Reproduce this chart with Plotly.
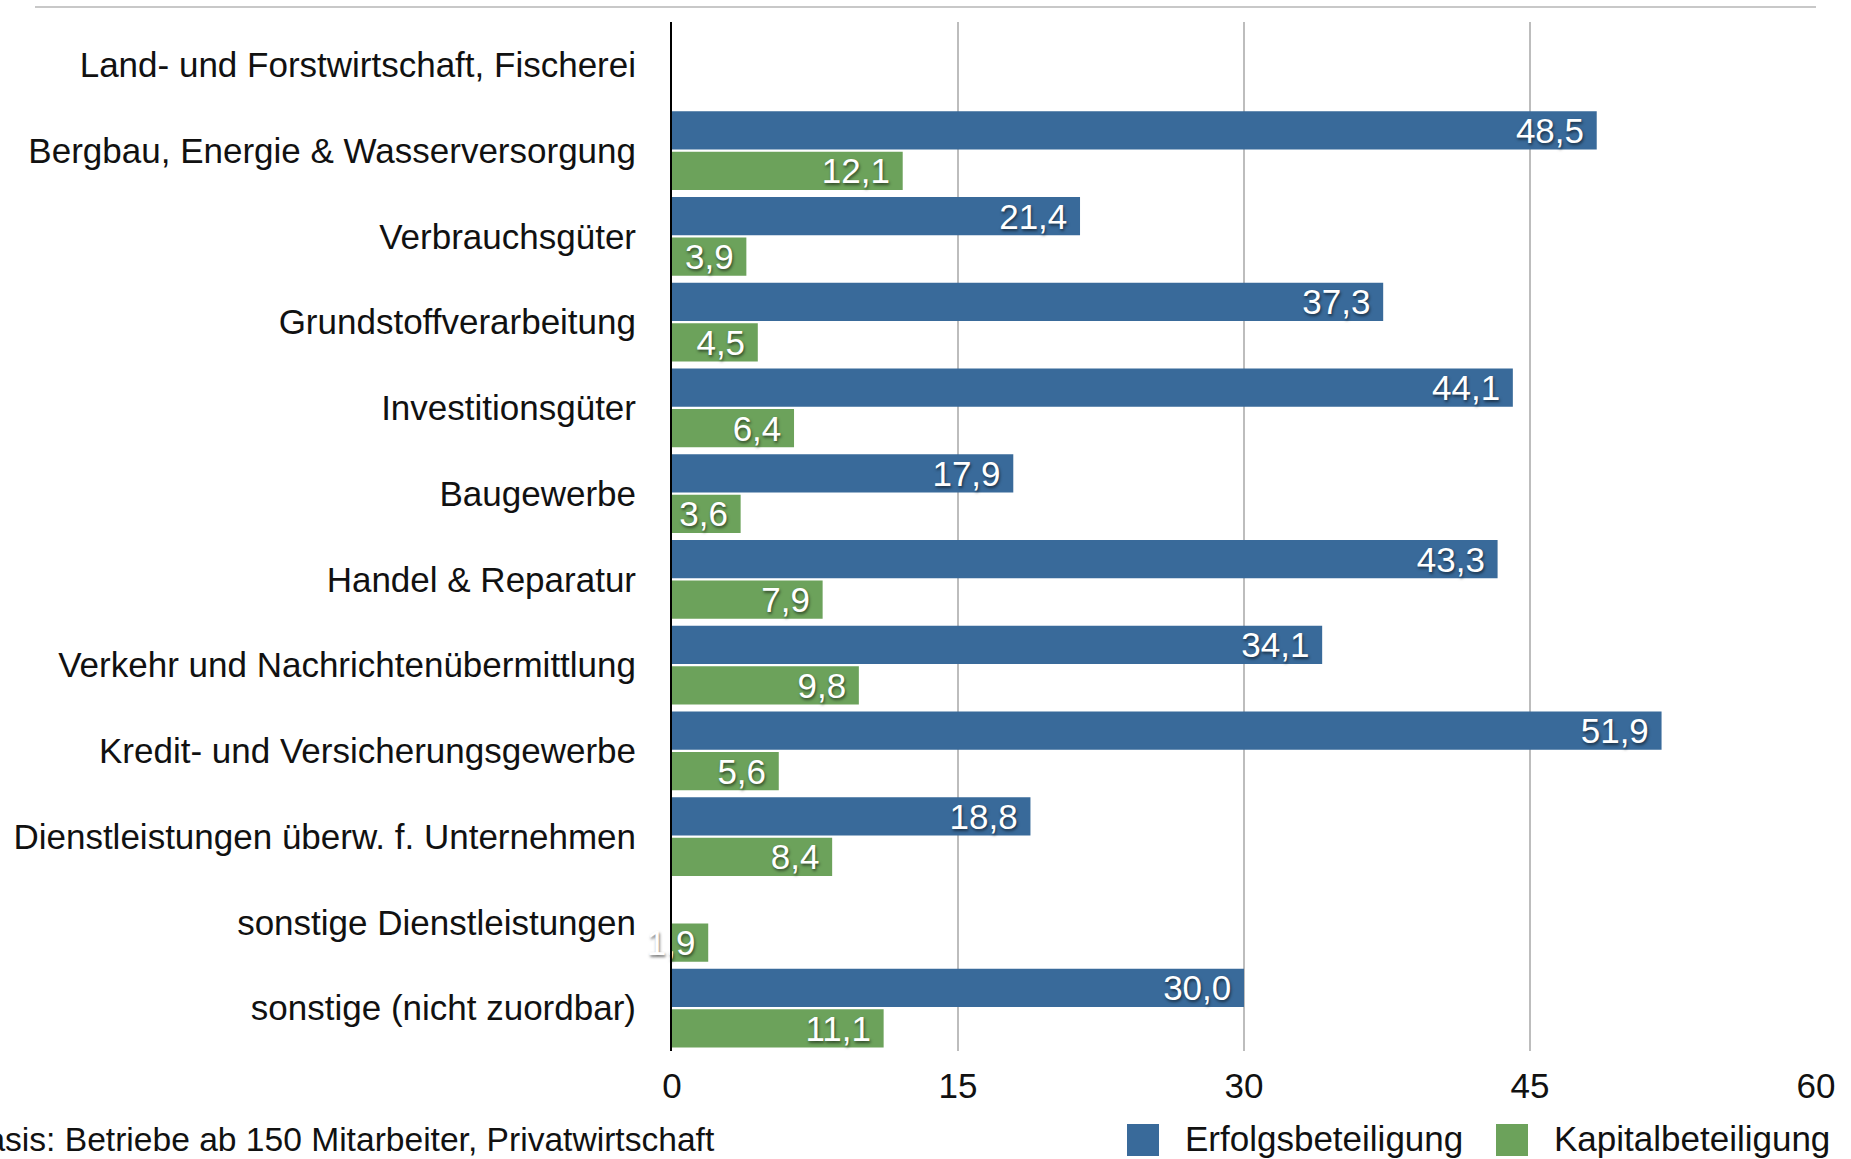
import plotly.graph_objects as go

categories = [
    "Land- und Forstwirtschaft, Fischerei",
    "Bergbau, Energie & Wasserversorgung",
    "Verbrauchsgüter",
    "Grundstoffverarbeitung",
    "Investitionsgüter",
    "Baugewerbe",
    "Handel & Reparatur",
    "Verkehr und Nachrichtenübermittlung",
    "Kredit- und Versicherungsgewerbe",
    "Dienstleistungen überw. f. Unternehmen",
    "sonstige Dienstleistungen",
    "sonstige (nicht zuordbar)",
]
erfolg = [None, 48.5, 21.4, 37.3, 44.1, 17.9, 43.3, 34.1, 51.9, 18.8, None, 30.0]
kapital = [None, 12.1, 3.9, 4.5, 6.4, 3.6, 7.9, 9.8, 5.6, 8.4, 1.9, 11.1]
x_ticks = [0, 15, 30, 45, 60]
series_names = ["Erfolgsbeteiligung", "Kapitalbeteiligung"]
footnote = "Basis: Betriebe ab 150 Mitarbeiter, Privatwirtschaft"

BLUE = "#396A9A"
GREEN = "#6CA25B"
FONT = "Liberation Sans"
FS = 35

W, H = 1851, 1159
L, R, T, B = 672, 1816, 22, 1051


def px(x):
    return (x - L) / (R - L)


def py(y):
    return (B - y) / (B - T)


fig = go.Figure()
for name, vals, col in [(series_names[0], erfolg, BLUE), (series_names[1], kapital, GREEN)]:
    fig.add_trace(go.Bar(
        y=categories, x=vals, name=name, orientation="h",
        marker=dict(color=col, line=dict(width=0)),
        texttemplate="%{x:.1f}\u00a0",
        textposition="inside", insidetextanchor="end", textangle=0,
        constraintext="none", cliponaxis=False,
        textfont=dict(family=FONT, size=FS, color="white",
                      shadow="1px 2px 3px rgba(0,0,0,0.55)"),
        showlegend=False, hoverinfo="skip",
    ))

fig.update_layout(
    width=W, height=H,
    margin=dict(l=L, r=W - R, t=T, b=H - B, autoexpand=False),
    paper_bgcolor="white", plot_bgcolor="white",
    barmode="group", bargap=0.06, bargroupgap=0.05,
    separators=",.",
    font=dict(family=FONT, size=FS, color="#111111"),
    xaxis=dict(range=[0, 60], tickvals=x_ticks, showgrid=True,
               gridcolor="#BDBDBD", gridwidth=2, zeroline=False,
               showline=False, ticks="", ticklabelstandoff=11,
               tickfont=dict(family=FONT, size=FS, color="#111111"),
               automargin=False, fixedrange=True),
    yaxis=dict(autorange="reversed", showline=True, linecolor="black",
               linewidth=2, ticks="", ticklabelstandoff=27, showgrid=False,
               tickfont=dict(family=FONT, size=FS, color="#111111"),
               automargin=False, fixedrange=True),
)

# top rule
fig.add_shape(type="line", xref="paper", yref="paper",
              x0=px(35), x1=px(1816), y0=py(7), y1=py(7),
              line=dict(color="#C8C8C8", width=2))

# footnote
fig.add_annotation(text=footnote, xref="paper", yref="paper",
                   x=px(717), y=py(1139), xanchor="right", yanchor="middle",
                   showarrow=False, font=dict(family=FONT, size=33.6, color="#111111"))

# legend
legend_items = [(series_names[0], BLUE, 1127), (series_names[1], GREEN, 1496)]
for name, col, x0 in legend_items:
    fig.add_shape(type="rect", xref="paper", yref="paper",
                  x0=px(x0), x1=px(x0 + 32), y0=py(1124), y1=py(1156),
                  fillcolor=col, line=dict(width=0))
    fig.add_annotation(text=name, xref="paper", yref="paper",
                       x=px(x0 + 56), y=py(1138), xanchor="left", yanchor="middle",
                       showarrow=False, font=dict(family=FONT, size=FS, color="#111111"))

fig.write_html("out.html", config={"displayModeBar": False},
               post_script="document.body.style.margin='0';document.body.style.overflow='hidden';")
